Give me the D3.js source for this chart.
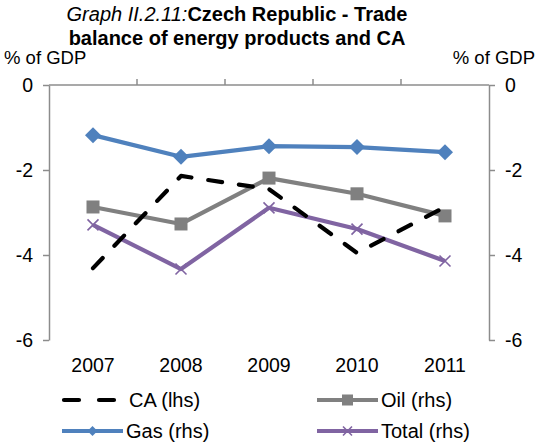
<!DOCTYPE html>
<html>
<head>
<meta charset="utf-8">
<script src="https://cdn.jsdelivr.net/npm/d3@7"></script>
<style>
  body { margin: 0; background: #fff; }
  svg { display: block; font-family: Arial, "Liberation Sans", sans-serif; }
</style>
</head>
<body>
<div id="chart"></div>
<script>
// data
var years = ["2007", "2008", "2009", "2010", "2011"];
var ca    = [-4.31, -2.14, -2.45, -3.95, -2.87];   // lhs
var oil   = [-2.87, -3.27, -2.19, -2.56, -3.08];   // rhs
var gas   = [-1.18, -1.69, -1.44, -1.46, -1.58];   // rhs
var total = [-3.29, -4.33, -2.89, -3.39, -4.14];   // rhs
var yTicks = [0, -2, -4, -6];

var W = 535, H = 442;
var m = {left: 49, right: 535 - 489, top: 85, bottom: 442 - 340};
var fs = 19.5;

var svg = d3.select("#chart").append("svg")
    .attr("width", W)
    .attr("height", H);

var x = d3.scaleBand().domain(years).range([m.left, W - m.right]);
var yL = d3.scaleLinear().domain([-6, 0]).range([H - m.bottom, m.top]);
var yR = d3.scaleLinear().domain([-6, 0]).range([H - m.bottom, m.top]);

var axisColor = "#8c8c8c";

// title
var title = svg.append("text")
    .attr("text-anchor", "middle")
    .attr("font-size", 20)
    .attr("fill", "#000");
var t1 = title.append("tspan").attr("x", 237).attr("y", 21);
t1.append("tspan").attr("font-style", "italic").text("Graph II.2.11:");
t1.append("tspan").attr("font-weight", "bold").text("Czech Republic - Trade");
title.append("tspan").attr("x", 237).attr("y", 45).attr("font-weight", "bold")
    .text("balance of energy products and CA");

svg.append("text").attr("x", 4).attr("y", 64).attr("font-size", 18.5).text("% of GDP");
svg.append("text").attr("x", 535).attr("y", 64).attr("font-size", 18.5)
    .attr("text-anchor", "end").text("% of GDP");

// axes
function styleAxis(g) {
  g.select(".domain").attr("stroke", axisColor).attr("stroke-width", 1.5);
  g.selectAll(".tick line").attr("stroke", axisColor).attr("stroke-width", 1.5);
  g.selectAll(".tick text").attr("fill", "#000").attr("font-size", fs)
      .attr("font-family", "Arial, 'Liberation Sans', sans-serif");
}

var fmt = d => String(d);  // plain hyphen minus like the original

svg.append("g")
    .attr("transform", "translate(" + m.left + ",0)")
    .call(d3.axisLeft(yL).tickValues(yTicks).tickFormat(fmt)
      .tickSize(6).tickSizeOuter(0).tickPadding(10))
    .call(styleAxis);

svg.append("g")
    .attr("transform", "translate(" + (W - m.right) + ",0)")
    .call(d3.axisRight(yR).tickValues(yTicks).tickFormat(fmt)
      .tickSize(6).tickSizeOuter(0).tickPadding(10))
    .call(styleAxis);

// category axis sits at 0 (top), ticks between categories
var catAxis = svg.append("g").attr("transform", "translate(0," + yL(0) + ")");
catAxis.append("line")
    .attr("x1", m.left).attr("x2", W - m.right)
    .attr("stroke", axisColor).attr("stroke-width", 1.5);
catAxis.selectAll(".sep")
    .data(years.slice(1))
    .join("line")
    .attr("x1", d => x(d)).attr("x2", d => x(d))
    .attr("y1", 0).attr("y2", -6)
    .attr("stroke", axisColor).attr("stroke-width", 1.5);

svg.append("g").selectAll("text")
    .data(years)
    .join("text")
    .attr("x", d => x(d) + x.bandwidth() / 2)
    .attr("y", 372)
    .attr("text-anchor", "middle")
    .attr("font-size", fs)
    .text(d => d);

function cx(i) { return x(years[i]) + x.bandwidth() / 2; }

var line = function(scale) {
  return d3.line().x((d, i) => cx(i)).y(d => scale(d));
};

var series = [
  {name: "Oil (rhs)",   vals: oil,   color: "#808080", scale: yR, marker: "square"},
  {name: "Gas (rhs)",   vals: gas,   color: "#4f81bd", scale: yR, marker: "diamond"},
  {name: "Total (rhs)", vals: total, color: "#8064a2", scale: yR, marker: "x"},
  {name: "CA (lhs)",    vals: ca,    color: "#000000", scale: yL, marker: null, dash: "14,17"}
];

function drawMarker(g, type, px, py, color, s) {
  if (type === "diamond") {
    g.append("path")
      .attr("d", "M" + px + "," + (py - s) + "L" + (px + s) + "," + py + "L" + px + "," + (py + s) + "L" + (px - s) + "," + py + "Z")
      .attr("fill", color);
  } else if (type === "square") {
    g.append("rect")
      .attr("x", px - s).attr("y", py - s)
      .attr("width", 2 * s).attr("height", 2 * s)
      .attr("fill", color);
  } else if (type === "x") {
    g.append("path")
      .attr("d", "M" + (px - s) + "," + (py - s) + "L" + (px + s) + "," + (py + s) + "M" + (px - s) + "," + (py + s) + "L" + (px + s) + "," + (py - s))
      .attr("stroke", color).attr("stroke-width", 1.6).attr("fill", "none");
  }
}

var markerSize = {diamond: 8, square: 6.5, x: 5.5};

series.forEach(function(s) {
  var g = svg.append("g");
  g.append("path")
    .datum(s.vals)
    .attr("d", line(s.scale))
    .attr("fill", "none")
    .attr("stroke", s.color)
    .attr("stroke-width", 4.2)
    .attr("stroke-linecap", s.dash ? "round" : "butt")
    .attr("stroke-linejoin", "round")
    .attr("stroke-dasharray", s.dash || null);
  if (s.marker) {
    s.vals.forEach(function(v, i) {
      drawMarker(g, s.marker, cx(i), s.scale(v), s.color, markerSize[s.marker]);
    });
  }
});

// legend
var legendItems = [
  {s: series[3], x: 62,  y: 400},
  {s: series[0], x: 317, y: 400},
  {s: series[1], x: 62,  y: 431},
  {s: series[2], x: 317, y: 431}
];
var legMarker = {diamond: 5, square: 5.5, x: 4.5};
legendItems.forEach(function(it) {
  var g = svg.append("g");
  var len = it.s.dash ? 53 : 61;
  g.append("line")
    .attr("x1", it.x + (it.s.dash ? 2 : 0)).attr("x2", it.x + len)
    .attr("y1", it.y).attr("y2", it.y)
    .attr("stroke", it.s.color).attr("stroke-width", 4.2)
    .attr("stroke-linecap", it.s.dash ? "round" : "butt")
    .attr("stroke-dasharray", it.s.dash ? "15,20" : null);
  if (it.s.marker) drawMarker(g, it.s.marker, it.x + len / 2, it.y, it.s.color, legMarker[it.s.marker]);
  g.append("text")
    .attr("x", it.s.dash ? it.x + 67 : it.x + 64)
    .attr("y", it.y + 7)
    .attr("font-size", 20)
    .text(it.s.name);
});
</script>
</body>
</html>
